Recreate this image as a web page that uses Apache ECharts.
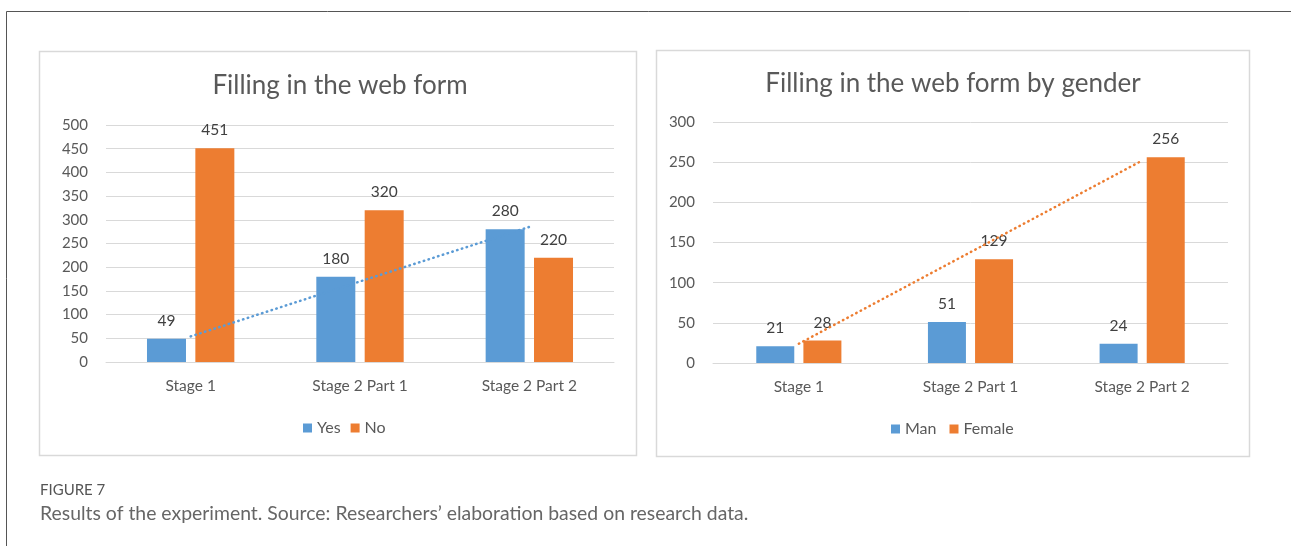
<!DOCTYPE html>
<html>
<head>
<meta charset="utf-8">
<script src="https://cdn.jsdelivr.net/npm/echarts@6/dist/echarts.min.js"></script>
<style>
html,body{margin:0;padding:0;background:#fff;}
#c{width:1291px;height:546px;}
</style>
</head>
<body>
<div id="c"></div>
<script>
// ---- data ----
var categories = ['Stage 1', 'Stage 2 Part 1', 'Stage 2 Part 2'];
var yesValues = [49, 180, 280];
var noValues = [451, 320, 220];
var yesTrend = [54, 170, 285];
var manValues = [21, 51, 24];
var femaleValues = [28, 129, 256];
var femaleTrend = [24, 138, 252];
var leftTicks = { min: 0, max: 500, interval: 50 };
var rightTicks = { min: 0, max: 300, interval: 50 };
var leftTitle = 'Filling in the web form';
var rightTitle = 'Filling in the web form by gender';
var figLabel = 'FIGURE 7';
var caption = 'Results of the experiment. Source: Researchers\u2019 elaboration based on research data.';

var BLUE = '#5b9bd5', ORANGE = '#ed7d31';
var FONT = 'Lato, "Open Sans", sans-serif';
var gridColor = '#d9d9d9';

var chart = echarts.init(document.getElementById('c'), null, { renderer: 'canvas' });

function xAxis(gi) {
  return {
    type: 'category', gridIndex: gi, data: categories,
    axisLine: { show: true, lineStyle: { color: gridColor, width: 1 } },
    axisTick: { show: false },
    axisLabel: { color: '#595959', fontSize: 15.5, fontFamily: FONT, margin: 16 }
  };
}
function yAxis(gi, t) {
  return {
    type: 'value', gridIndex: gi, min: t.min, max: t.max, interval: t.interval,
    axisLine: { show: false }, axisTick: { show: false },
    splitLine: { lineStyle: { color: gridColor, width: 1 } },
    axisLabel: { color: '#595959', fontSize: 15, fontFamily: FONT, margin: 18 }
  };
}
function barSeries(name, data, color, gi, bw) {
  return {
    name: name, type: 'bar', xAxisIndex: gi, yAxisIndex: gi, data: data,
    barWidth: bw, barGap: '24%',
    itemStyle: { color: color },
    label: { show: true, position: 'top', distance: 10, color: '#404040', fontSize: 15.5, fontFamily: FONT },
    z: 2
  };
}
function trendSeries(data, color, gi) {
  return {
    name: 'trend' + gi, type: 'line', xAxisIndex: gi, yAxisIndex: gi, data: data,
    symbol: 'none', silent: true, z: 5,
    lineStyle: { color: color, width: 2.5, type: [0.5, 4.5], cap: 'round' }
  };
}

chart.setOption({
  animation: false,
  backgroundColor: '#ffffff',
  textStyle: { fontFamily: FONT },
  title: [
    { text: leftTitle, left: 335, top: 68, textAlign: 'center',
      textStyle: { color: '#595959', fontSize: 26, fontWeight: 'normal', fontFamily: FONT } },
    { text: rightTitle, left: 948, top: 66, textAlign: 'center',
      textStyle: { color: '#595959', fontSize: 26, fontWeight: 'normal', fontFamily: FONT } }
  ],
  legend: [
    { data: ['Yes', 'No'], left: 298, top: 415, itemWidth: 9, itemHeight: 9, itemGap: 10,
      icon: 'rect', textStyle: { color: '#595959', fontSize: 16, fontFamily: FONT },
      selectedMode: false, orient: 'horizontal' },
    { data: ['Man', 'Female'], left: 886, top: 416, itemWidth: 9, itemHeight: 9, itemGap: 13,
      icon: 'rect', textStyle: { color: '#595959', fontSize: 16, fontFamily: FONT },
      selectedMode: false }
  ],
  grid: [
    { left: 106, right: 1291 - 614, top: 125, bottom: 546 - 362 },
    { left: 713, right: 1291 - 1228, top: 122, bottom: 546 - 363 }
  ],
  xAxis: [xAxis(0), xAxis(1)],
  yAxis: [yAxis(0, leftTicks), yAxis(1, rightTicks)],
  series: [
    barSeries('Yes', yesValues, BLUE, 0, 39),
    barSeries('No', noValues, ORANGE, 0, 39),
    trendSeries(yesTrend, BLUE, 0),
    barSeries('Man', manValues, BLUE, 1, 38),
    barSeries('Female', femaleValues, ORANGE, 1, 38),
    trendSeries(femaleTrend, ORANGE, 1)
  ],
  graphic: [
    { type: 'polyline', silent: true, shape: { points: [[6.5, 546], [6.5, 11.5], [1291, 11.5]] },
      style: { stroke: '#555555', lineWidth: 1, fill: null } },
    { type: 'rect', silent: true, z: -1, shape: { x: 39.5, y: 51.5, width: 597, height: 404 },
      style: { stroke: '#d9d9d9', lineWidth: 1.5, fill: '#ffffff' } },
    { type: 'rect', silent: true, z: -1, shape: { x: 656.5, y: 50.5, width: 593, height: 406 },
      style: { stroke: '#d9d9d9', lineWidth: 1.5, fill: '#ffffff' } },
    { type: 'text', silent: true, left: 40, top: 483,
      style: { text: figLabel, fill: '#555555', fontSize: 15, fontFamily: FONT } },
    { type: 'text', silent: true, left: 40, top: 504,
      style: { text: caption, fill: '#666666', fontSize: 19.4, fontFamily: FONT } }
  ]
});
</script>
</body>
</html>
